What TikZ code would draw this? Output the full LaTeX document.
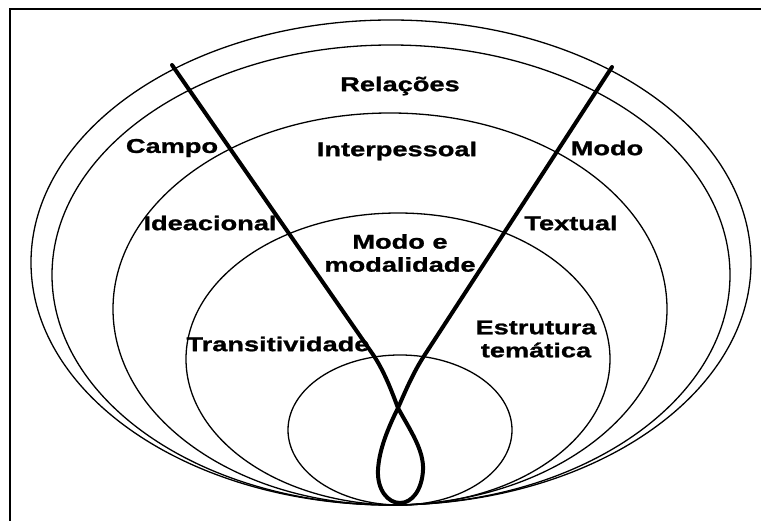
\documentclass[tikz,border=0pt]{standalone}
\usepackage{fontspec}
\newfontfamily\labelfont{Liberation Sans Bold}[FakeStretch=1.36, FakeBold=1.2]
\usepackage{tikz}
\usetikzlibrary{positioning}

\begin{document}
\begin{tikzpicture}[
        x=1pt, y=-1pt,
        ring/.style={draw, line width=1.3pt},
        strand/.style={draw, line width=4pt, line join=round, line cap=round},
        every node/.style={font=\labelfont\fontsize{20}{23}\selectfont, align=center, inner sep=0pt}
    ]

    \useasboundingbox (0,0) rectangle (761,521);
    \clip (0,0) rectangle (761,521);

    % frame
    \draw[line width=1.6pt] (10,530) -- (10,9) -- (770,9);

    % nested rings, all touching at the bottom
    \draw[ring] (391,262.5) ellipse [x radius=360, y radius=242.5];
    \draw[ring] (391,275) ellipse [x radius=339, y radius=230];
    \draw[ring] (390,309) ellipse [x radius=277, y radius=196];
    \draw[ring] (398,359) ellipse [x radius=212, y radius=146];
    \draw[ring] (400,430) ellipse [x radius=112, y radius=75];

    % the two strands with the loop
    \coordinate (lefttop) at (172,65);
    \coordinate (righttop) at (612,67);
    \coordinate (cross) at (398,408);
    \draw[strand] (lefttop) -- (374,356)
        .. controls (385,373) and (392,392) .. (cross)
        .. controls (410,430) and (424,450) .. (423,470)
        .. controls (422,490) and (412,503) .. (400,503)
        .. controls (388,503) and (377,490) .. (378,470)
        .. controls (379,450) and (388,428) .. (cross)
        .. controls (405,392) and (413,373) .. (424,356)
        -- (righttop);

    % labels
    \node (relacoes) at (400,86) {Relações};
    \node (interpessoal) at (397,151) {Interpessoal};
    \node (campo) at (172,148) {Campo};
    \node (modo) at (607,148) {Modo};
    \node (ideacional) at (210,223) {Ideacional};
    \node (textual) at (571,223) {Textual};
    \node (modalidade) at (400,253) {Modo e\\modalidade};
    \node (transitividade) at (278,344) {Transitividade};
    \node (tematica) at (536,339) {Estrutura\\temática};

\end{tikzpicture}
\end{document}
